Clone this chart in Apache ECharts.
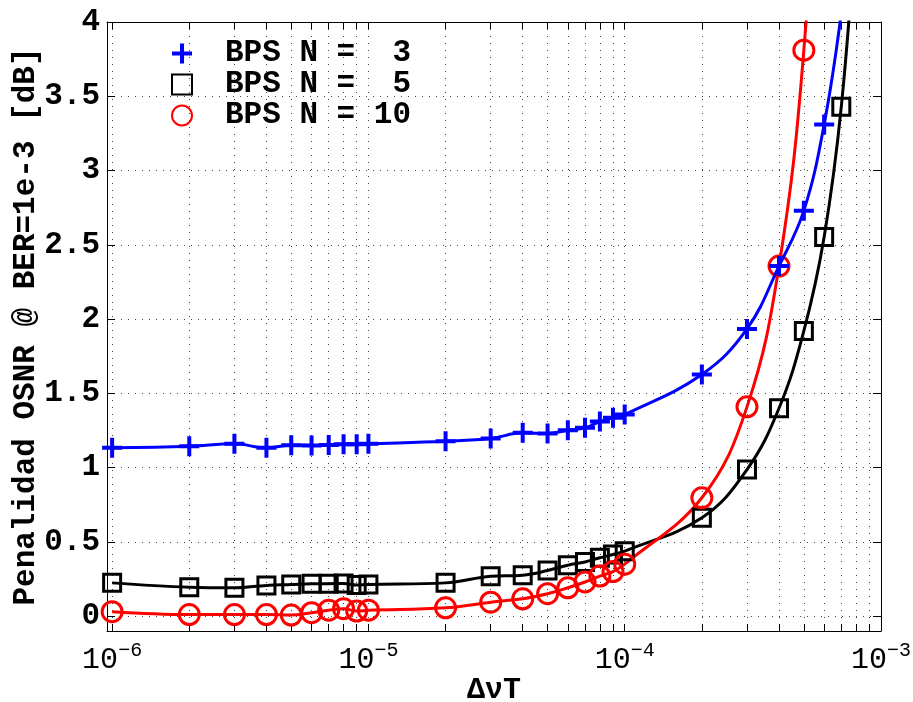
<!DOCTYPE html>
<html>
<head>
<meta charset="utf-8">
<script src="https://cdn.jsdelivr.net/npm/echarts@6/dist/echarts.min.js"></script>
<style>
  html, body { margin: 0; padding: 0; background: #fff; }
  #chart { width: 913px; height: 702px; }
</style>
</head>
<body>
<div id="chart"></div>
<script>
// Series labels (monospace, padded so the numbers line up)
const seriesNames = ['BPS N =  3', 'BPS N =  5', 'BPS N = 10'];

// Linewidth-times-symbol-period values (ΔνT) for each curve
const xN3 = [1e-6, 2e-6, 3e-6, 4e-6, 5e-6, 6e-6, 7e-6, 8e-6, 9e-6,
             1e-5, 2e-5, 3e-5, 4e-5, 5e-5, 6e-5, 7e-5, 8e-5, 9e-5,
             1e-4, 2e-4, 3e-4, 4e-4, 5e-4, 6e-4, 7e-4];
const yN3 = [1.133, 1.144, 1.160, 1.133, 1.151, 1.149, 1.153, 1.157, 1.157,
             1.160, 1.178, 1.196, 1.234, 1.229, 1.252, 1.268, 1.310, 1.335,
             1.357, 1.627, 1.934, 2.357, 2.730, 3.310, 4.060];

const xN5 = [1e-6, 2e-6, 3e-6, 4e-6, 5e-6, 6e-6, 7e-6, 8e-6, 9e-6,
             1e-5, 2e-5, 3e-5, 4e-5, 5e-5, 6e-5, 7e-5, 8e-5, 9e-5,
             1e-4, 2e-4, 3e-4, 4e-4, 5e-4, 6e-4, 7e-4, 8e-4];
const yN5 = [0.224, 0.195, 0.191, 0.207, 0.213, 0.218, 0.218, 0.220, 0.209,
             0.213, 0.224, 0.269, 0.276, 0.307, 0.343, 0.365, 0.393, 0.415,
             0.437, 0.662, 0.987, 1.400, 1.920, 2.553, 3.430, 4.700];

const xN10 = [1e-6, 2e-6, 3e-6, 4e-6, 5e-6, 6e-6, 7e-6, 8e-6, 9e-6,
              1e-5, 2e-5, 3e-5, 4e-5, 5e-5, 6e-5, 7e-5, 8e-5, 9e-5,
              1e-4, 2e-4, 3e-4, 4e-4, 5e-4, 6e-4];
const yN10 = [0.030, 0.011, 0.011, 0.011, 0.007, 0.023, 0.040, 0.050, 0.034,
              0.040, 0.056, 0.094, 0.117, 0.151, 0.191, 0.230, 0.270, 0.300,
              0.350, 0.797, 1.409, 2.357, 3.810, 6.100];

// Axis ticks
const yTicks = [0, 0.5, 1, 1.5, 2, 2.5, 3, 3.5, 4];
const xMajorTicks = [1e-6, 1e-5, 1e-4, 1e-3];
// 1..9 x 10^k inside every decade: log-axis ticks and dotted grid
const xAllTicks = [];
for (let e = -6; e < -3; e++) {
  for (let m = 1; m <= 9; m++) xAllTicks.push(Number(m + 'e' + e));
}
xAllTicks.push(1e-3);

const MONO = '"Liberation Mono", "Courier New", "DejaVu Sans Mono", monospace';
const PLUS = 'path://M-2,-10L2,-10L2,-2L10,-2L10,2L2,2L2,10L-2,10L-2,2L-10,2L-10,-2L-2,-2Z';

const gridLine = { show: true, lineStyle: { color: '#444', width: 1, type: [1, 6] } };
const tickStyle = { color: '#000', width: 1 };

function pairs(xs, ys) { return xs.map((x, i) => [x, ys[i]]); }

function sup(v) {
  const e = Math.round(Math.log10(v));
  return '{b|10}{s|' + (e < 0 ? '\u2212' : '') + Math.abs(e) + '}';
}

const chart = echarts.init(document.getElementById('chart'), null, { renderer: 'canvas' });

chart.setOption({
  animation: false,
  backgroundColor: '#fff',
  grid: { left: 107, right: 32, top: 22, bottom: 71, show: false, outerBoundsMode: 'none', containLabel: false },
  legend: {
    orient: 'vertical',
    left: 166,
    top: 33,
    itemWidth: 20,
    itemHeight: 20,
    itemGap: 0,
    selectedMode: false,
    textStyle: {
      fontFamily: MONO, fontWeight: 'bold', fontSize: 31, color: '#000',
      lineHeight: 31, padding: [0, 0, 0, 28]
    },
    data: [
      { name: seriesNames[0], icon: PLUS },
      { name: seriesNames[1], icon: 'rect' },
      { name: seriesNames[2], icon: 'circle' }
    ]
  },
  xAxis: [
    {
      type: 'log', logBase: 10, min: 0.955e-6, max: 1e-3, position: 'bottom',
      axisLine: { show: true, onZero: false, lineStyle: { color: '#000', width: 1 } },
      axisTick: { show: true, inside: true, length: 7, customValues: xAllTicks, lineStyle: tickStyle },
      axisLabel: {
        customValues: xMajorTicks, margin: 10, formatter: sup,
        rich: {
          b: { fontFamily: MONO, fontSize: 30, color: '#000', lineHeight: 34, verticalAlign: 'bottom' },
          s: { fontFamily: MONO, fontSize: 20, color: '#000', lineHeight: 20, verticalAlign: 'top' }
        }
      },
      splitLine: gridLine,
      name: '\u0394\u03bdT', nameLocation: 'middle', nameGap: 44, nameMoveOverlap: false,
      nameTextStyle: { fontFamily: MONO, fontWeight: 'bold', fontSize: 30, color: '#000' }
    },
    {
      type: 'log', logBase: 10, min: 0.955e-6, max: 1e-3, position: 'top',
      axisLine: { show: true, onZero: false, lineStyle: { color: '#000', width: 1 } },
      axisTick: { show: true, inside: true, length: 7, customValues: xAllTicks, lineStyle: tickStyle },
      axisLabel: { show: false },
      splitLine: { show: false }
    }
  ],
  yAxis: [
    {
      type: 'value', min: -0.1, max: 4, position: 'left',
      axisLine: { show: true, onZero: false, lineStyle: { color: '#000', width: 1 } },
      axisTick: { show: true, inside: true, length: 8, customValues: yTicks, lineStyle: tickStyle },
      axisLabel: {
        customValues: yTicks, margin: 7, formatter: v => String(v),
        fontFamily: MONO, fontWeight: 'bold', fontSize: 31, color: '#000'
      },
      splitLine: gridLine,
      name: 'Penalidad OSNR @ BER=1e-3 [dB]', nameLocation: 'middle', nameGap: 65, nameMoveOverlap: false,
      nameTextStyle: { fontFamily: MONO, fontWeight: 'bold', fontSize: 31, color: '#000' }
    },
    {
      type: 'value', min: -0.1, max: 4, position: 'right',
      axisLine: { show: true, onZero: false, lineStyle: { color: '#000', width: 1 } },
      axisTick: { show: true, inside: true, length: 8, customValues: yTicks, lineStyle: tickStyle },
      axisLabel: { show: false },
      splitLine: { show: false }
    }
  ],
  series: [
    {
      name: seriesNames[0], type: 'line', data: pairs(xN3, yN3),
      symbol: PLUS, symbolSize: 20, smooth: 0.4, clip: true,
      itemStyle: { color: '#0000ff' },
      lineStyle: { color: '#0000ff', width: 3 },
      emphasis: { disabled: true }, z: 3
    },
    {
      name: seriesNames[1], type: 'line', data: pairs(xN5, yN5),
      symbol: 'rect', symbolSize: 17, smooth: 0.4, clip: true,
      itemStyle: { color: 'rgba(0,0,0,0)', borderColor: '#000', borderWidth: 3 },
      lineStyle: { color: '#000', width: 3 },
      emphasis: { disabled: true }, z: 2
    },
    {
      name: seriesNames[2], type: 'line', data: pairs(xN10, yN10),
      symbol: 'circle', symbolSize: 20, smooth: 0.4, clip: true,
      itemStyle: { color: 'rgba(0,0,0,0)', borderColor: '#ff0000', borderWidth: 3 },
      lineStyle: { color: '#ff0000', width: 3 },
      emphasis: { disabled: true }, z: 2
    }
  ]
});
</script>
</body>
</html>
